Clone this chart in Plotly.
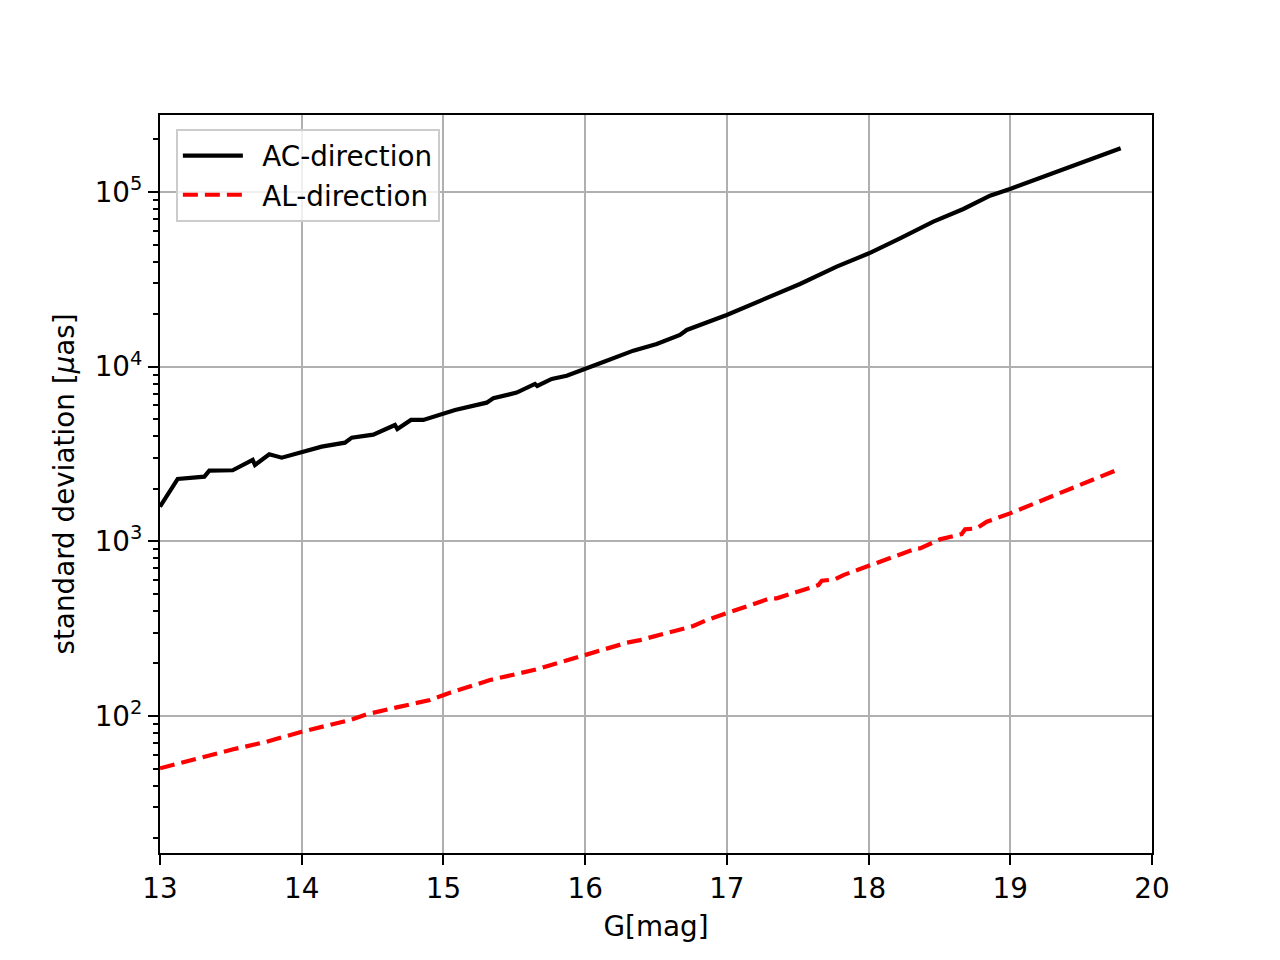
import plotly.graph_objects as go

# AC-direction
ac_g = [13.0, 13.125, 13.313, 13.348, 13.513, 13.654, 13.670, 13.771, 13.859, 14.0,
        14.141, 14.305, 14.353, 14.505, 14.658, 14.675, 14.771, 14.858, 14.976, 15.082,
        15.305, 15.352, 15.517, 15.646, 15.662, 15.764, 15.870, 15.999, 16.105, 16.34,
        16.505, 16.669, 16.717, 16.999, 17.257, 17.516, 17.775, 18.003, 18.222, 18.293,
        18.457, 18.669, 18.857, 18.998, 19.280, 19.539, 19.779]
ac_sd = [1580, 2277, 2346, 2540, 2553, 2924, 2737, 3153, 3014, 3262,
         3484, 3673, 3923, 4080, 4637, 4399, 4954, 4954, 5290, 5650,
         6222, 6594, 7102, 7961, 7754, 8504, 8880, 9790, 10460, 12350,
         13490, 15180, 16220, 19760, 24090, 29750, 37360, 44570, 54330, 58020,
         67610, 79940, 95240, 104000, 126300, 150400, 177900]

# AL-direction
al_g = [13.0, 13.118, 13.282, 13.517, 13.753, 14.0, 14.341, 14.459, 14.670, 14.905,
        15.046, 15.329, 15.658, 15.799, 15.999, 16.293, 16.387, 16.763, 16.858, 17.093,
        17.305, 17.352, 17.646, 17.670, 17.763, 17.822, 18.340, 18.363, 18.504, 18.657,
        18.681, 18.763, 18.834, 18.998, 19.380, 19.762]
al_sd = [50.2, 53.1, 58.0, 64.5, 71.3, 81.3, 94.9, 102.3, 112.1, 123.5,
         136, 160.7, 185, 200.3, 223.5, 262.8, 272, 327.5, 354.4, 413.5,
         471.8, 471.8, 562, 595, 606, 641, 912, 912, 1027, 1101,
         1171, 1187, 1295, 1446, 1930, 2583]

x_ticks = [13, 14, 15, 16, 17, 18, 19, 20]
y_ticks = [100, 1000, 10000, 100000]
y_ticktext = ["10<sup>2</sup>", "10<sup>3</sup>", "10<sup>4</sup>", "10<sup>5</sup>"]
y_minor = [m * 10 ** e for e in range(1, 6) for m in range(2, 10)]

FONT = "DejaVu Sans"
FS = 27.8
GAP = "\u00a0\u2009"

fig = go.Figure()
fig.add_trace(go.Scatter(x=ac_g, y=ac_sd, mode="lines", name=GAP + "AC-direction",
                         line=dict(color="black", width=4.2)))
fig.add_trace(go.Scatter(x=al_g, y=al_sd, mode="lines", name=GAP + "AL-direction",
                         line=dict(color="red", width=4.2, dash="15px,7px")))

fig.update_layout(
    width=1280, height=960,
    margin=dict(l=160, r=128, t=115, b=107),
    paper_bgcolor="white", plot_bgcolor="white",
    font=dict(family=FONT, size=FS, color="black"),
    showlegend=True,
    legend=dict(x=0.016, y=0.981, xanchor="left", yanchor="top",
                bgcolor="rgba(255,255,255,0.8)", bordercolor="#cccccc", borderwidth=2,
                font=dict(family=FONT, size=FS), itemwidth=60, tracegroupgap=0),
    xaxis=dict(
        range=[13, 20], tickvals=x_ticks, ticktext=[str(v) for v in x_ticks],
        showgrid=True, gridcolor="#b0b0b0", gridwidth=2.2,
        showline=True, linecolor="black", linewidth=2, mirror=True,
        ticks="outside", ticklen=10, tickwidth=2.2, tickcolor="black",
        zeroline=False,
        title=dict(text="G[mag]", standoff=12, font=dict(family=FONT, size=FS)),
    ),
    yaxis=dict(
        type="log", range=[1.216, 5.4407],
        tickvals=y_ticks, ticktext=y_ticktext,
        showgrid=True, gridcolor="#b0b0b0", gridwidth=2.2,
        showline=True, linecolor="black", linewidth=2, mirror=True,
        ticks="outside", ticklen=10, tickwidth=2.2, tickcolor="black",
        zeroline=False,
        minor=dict(tickvals=y_minor, ticks="outside", ticklen=5.5, tickwidth=1.7,
                   tickcolor="black", showgrid=False),
        title=dict(text="standard deviation [<i>μ</i>as]", standoff=12,
                   font=dict(family=FONT, size=FS)),
    ),
)

fig.write_html("out.html", config={"displayModeBar": False},
               post_script="document.body.style.margin='0';")
